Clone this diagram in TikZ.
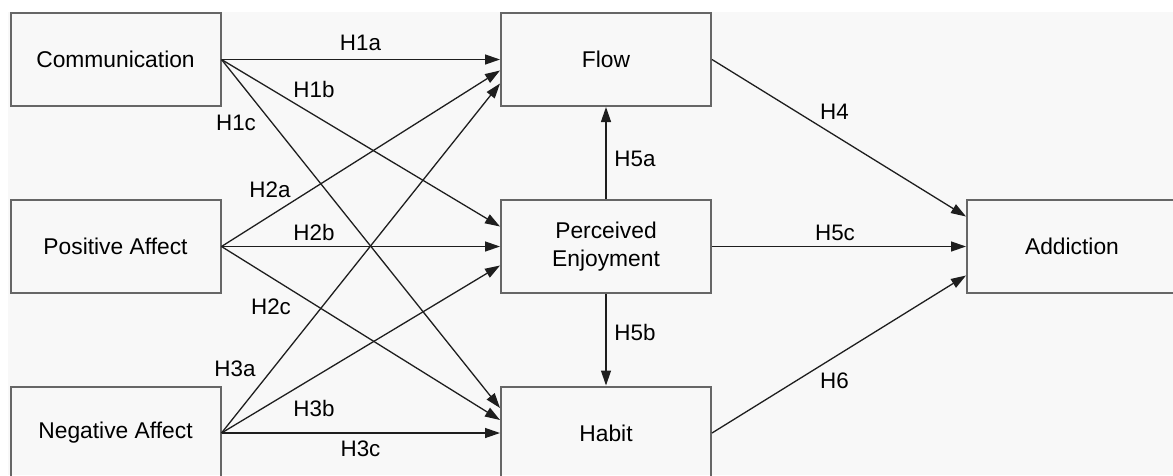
\documentclass[tikz,border=0pt]{standalone}
\usepackage{fontspec}
\setmainfont{Liberation Sans}
\usetikzlibrary{arrows.meta,calc}
\definecolor{bgc}{HTML}{F8F8F8}
\definecolor{boxc}{HTML}{666666}
\definecolor{arrc}{HTML}{1E1E1E}
\begin{document}
\begin{tikzpicture}[x=1pt,y=-1pt,
  box/.style={draw=boxc,line width=2pt,rectangle,minimum width=210pt,minimum height=93pt,
    inner sep=0pt,align=center,font=\fontsize{22.8}{27.4}\selectfont},
  lbl/.style={anchor=base,inner sep=0pt,font=\fontsize{22.4}{26}\selectfont},
  conn/.style={draw=arrc,line width=1.3pt,-{Triangle[length=15pt,width=10pt]}}]
\useasboundingbox (0,0) rectangle (1173,475);
\fill[white] (0,0) rectangle (1173,475);
\fill[bgc] (7.5,12) rectangle (1173,475);
% boxes
\node[box] (comm) at (115.5,59.5) {Communication};
\node[box] (pos) at (115.5,246.5) {Positive Affect};
\node[box] (neg) at (115.5,433) {Negative Affect};
\node[box] (flow) at (606,59.5) {Flow};
\node[box] (pe) at (606,246.5) {Perceived\\Enjoyment};
\node[box] (habit) at (606,433) {Habit};
\node[box] (add) at (1072,246.5) {Addiction};
% connectors
\draw[conn] (comm.east) -- (flow.west);
\draw[conn] (comm.east) -- ($(pe.west)+(0,-20)$);
\draw[conn] (comm.east) -- ($(habit.west)+(0,-25)$);
\draw[conn] (pos.east) -- ($(flow.west)+(0,11)$);
\draw[conn] (pos.east) -- (pe.west);
\draw[conn] (pos.east) -- ($(habit.west)+(0,-13)$);
\draw[conn] (neg.east) -- ($(flow.west)+(0,24)$);
\draw[conn] (neg.east) -- ($(pe.west)+(0,19)$);
\draw[conn] (neg.east) -- (habit.west);
\draw[conn] (pe.north) -- (flow.south);
\draw[conn] (pe.south) -- (habit.north);
\draw[conn] (flow.east) -- ($(add.west)+(0,-30)$);
\draw[conn] (pe.east) -- (add.west);
\draw[conn] (habit.east) -- ($(add.west)+(0,29)$);
% labels
\node[lbl] (l1a) at (360.5,50) {H1a};
\node[lbl] (l1b) at (314,97) {H1b};
\node[lbl] (l1c) at (236,130) {H1c};
\node[lbl] (l2a) at (270,197) {H2a};
\node[lbl] (l2b) at (314,240.5) {H2b};
\node[lbl] (l2c) at (271,314) {H2c};
\node[lbl] (l3a) at (235,376.5) {H3a};
\node[lbl] (l3b) at (314,416.5) {H3b};
\node[lbl] (l3c) at (360.5,456.5) {H3c};
\node[lbl] (l4) at (834.5,119.5) {H4};
\node[lbl] (l5a) at (635,166.5) {H5a};
\node[lbl] (l5b) at (635,340) {H5b};
\node[lbl] (l5c) at (835,240.5) {H5c};
\node[lbl] (l6) at (834.5,388) {H6};
\end{tikzpicture}
\end{document}
